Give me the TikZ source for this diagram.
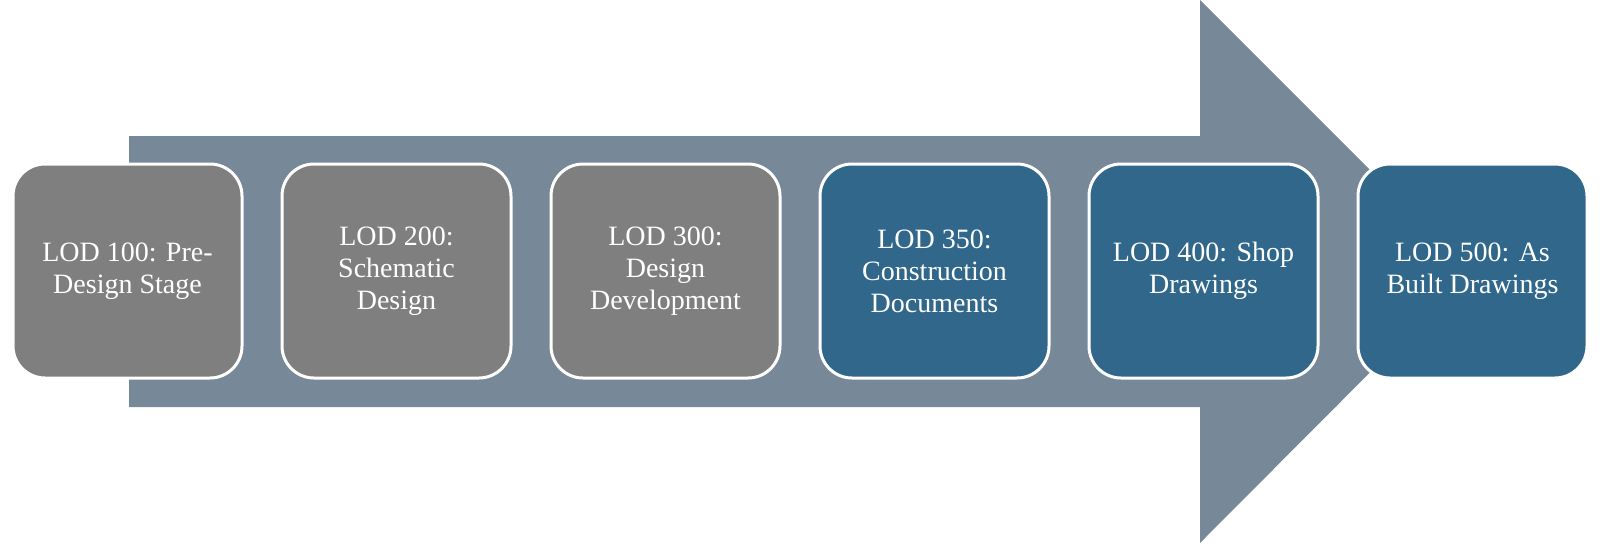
\documentclass[tikz,border=0pt]{standalone}
\usepackage{fontspec}
\setmainfont{Liberation Serif}
\usetikzlibrary{positioning}
\definecolor{arrowgray}{HTML}{778898}
\definecolor{lodgray}{HTML}{7F7F7F}
\definecolor{lodblue}{HTML}{30678A}
\tikzset{
  lod/.style={draw=white, line width=1.5pt, rounded corners=16pt,
    minimum width=114.5pt, minimum height=107pt, inner sep=2pt, outer sep=0pt,
    align=center, text=white, font=\fontsize{14}{16}\selectfont},
  lodold/.style={lod, fill=lodgray},
  lodnew/.style={lod, fill=lodblue},
}

\begin{document}
\begin{tikzpicture}[x=0.5pt, y=-0.5pt]
\useasboundingbox (0,0) rectangle (1603,548);

% Big arrow
\fill [arrowgray] (129,136) -- (1200,136) -- (1200,0) -- (1471,271)
    -- (1200,543) -- (1200,407) -- (129,407) -- cycle;

% Stages
\node (lod100) [lodold] at (127.5,271) {LOD 100: Pre-\\Design Stage};
\node (lod200) [lodold, right=20pt of lod100] {LOD 200:\\Schematic\\Design};
\node (lod300) [lodold, right=20pt of lod200] {LOD 300:\\Design\\Development};
\node (lod350) [lodnew, right=20pt of lod300] {LOD 350:\\Construction\\Documents};
\node (lod400) [lodnew, right=20pt of lod350] {LOD 400: Shop\\Drawings};
\node (lod500) [lodnew, right=20pt of lod400] {LOD 500: As\\Built Drawings};

\end{tikzpicture}
\end{document}
